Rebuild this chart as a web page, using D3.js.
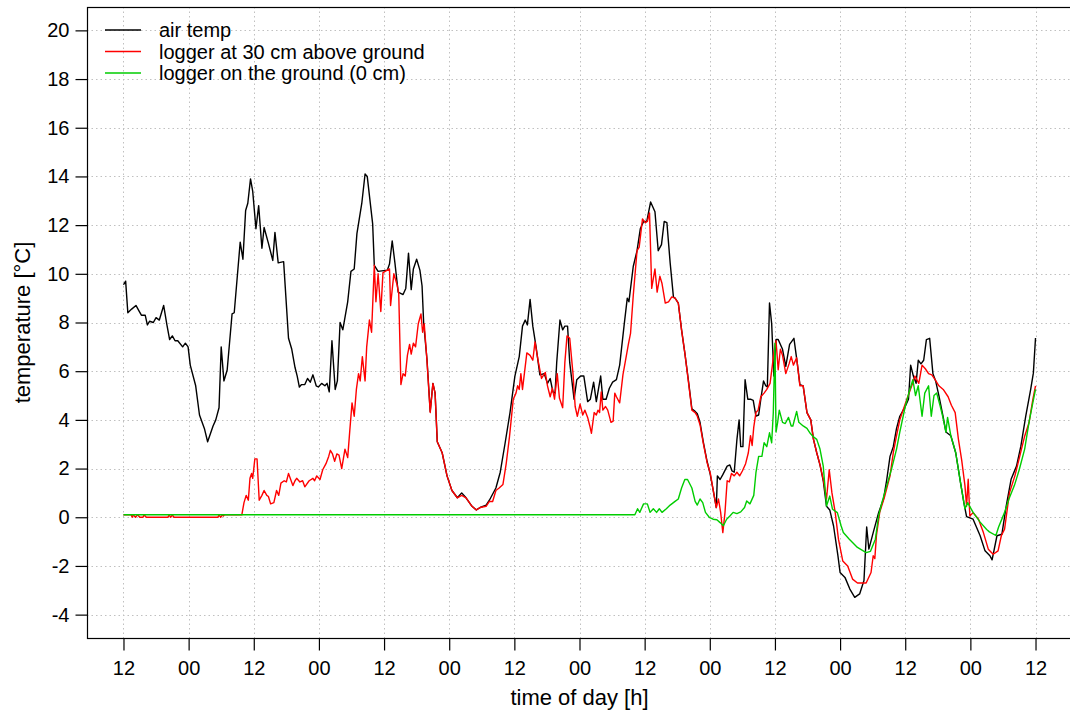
<!DOCTYPE html>
<html>
<head>
<meta charset="utf-8">
<script src="https://cdn.jsdelivr.net/npm/d3@7"></script>
<style>
  body { margin: 0; background: #fff; }
  svg { display: block; font-family: "Liberation Sans", Arial, sans-serif; }
  .grid line { stroke: #c0c0c0; stroke-width: 1; stroke-dasharray: 1.5,3; }
  .series { fill: none; stroke-width: 1.4; stroke-linejoin: round; }
</style>
</head>
<body>
<div id="chart"></div>
<script>
// hours since the first noon, temperature in degrees C
const airTemp = [
  [0,9.55],[0.4,9.7],[0.8,8.4],[1.5,8.55],[2.3,8.7],[2.8,8.5],[3.3,8.3],[4,8.3],[4.4,7.9],[4.8,8.05],
  [5.5,8.0],[6,8.2],[6.6,8.1],[7.4,8.7],[8,7.9],[8.5,7.3],[9,7.45],[9.5,7.25],[10,7.25],[10.9,7.0],
  [11.4,7.15],[11.9,7.0],[12.3,6.25],[13.3,5.4],[14,4.2],[14.9,3.65],[15.5,3.1],[16.5,3.75],[17,4.0],[17.6,4.5],
  [18,7.0],[18.5,5.6],[19.1,6.05],[20,8.35],[20.4,8.4],[21.5,11.3],[22,10.6],[22.5,12.6],[22.9,12.9],[23.4,13.9],
  [23.8,13.4],[24.4,11.85],[24.9,12.8],[25.5,11.05],[25.9,11.9],[26.7,11.25],[27.5,10.55],[27.9,11.7],[28.5,10.45],[29.5,10.5],
  [30.4,7.35],[31,6.9],[31.6,6.15],[32,5.8],[32.4,5.35],[32.8,5.45],[33.4,5.45],[33.9,5.7],[34.4,5.55],[34.9,5.85],
  [35.5,5.4],[35.9,5.35],[36.5,5.5],[37.1,5.4],[37.5,5.5],[37.9,5.15],[38.4,7.25],[39,5.25],[39.4,5.6],[39.9,8.0],
  [40.4,7.7],[41.3,8.85],[41.9,10.1],[42.5,10.2],[43,11.65],[43.9,12.9],[44.5,14.1],[44.9,14.0],[45.9,12.05],[46.2,10.35],
  [46.9,10.1],[48.6,10.15],[49,10.4],[49.5,11.35],[50,10.45],[50.6,9.25],[51.5,9.15],[52,9.4],[52.5,10.85],[53,9.35],
  [53.4,10.2],[54,10.6],[54.6,10.15],[55,9.5],[55.3,7.95],[55.9,6.5],[56.5,4.35],[57,5.5],[57.4,5.1],[57.8,3.1],
  [58.7,2.65],[59.6,1.7],[60.5,1.1],[61.5,0.8],[62.3,1.0],[63.1,0.8],[64.2,0.45],[65,0.3],[65.7,0.4],[66.8,0.5],
  [67.4,0.7],[68.6,1.2],[69.4,1.85],[70.3,3.05],[71.2,4.3],[72.1,5.8],[72.9,6.6],[73.5,7.85],[74,8.1],[74.4,7.9],
  [74.9,8.95],[75.4,7.85],[76,7.0],[76.7,5.85],[77.5,5.9],[78.1,5.5],[78.6,5.7],[79.1,5.15],[79.5,5.1],[79.8,6.35],
  [80.4,8.1],[80.9,7.7],[81.3,7.85],[81.8,7.85],[82.2,6.35],[83,4.85],[83.5,5.65],[84.2,5.8],[84.8,5.8],[85.5,4.75],
  [86,4.85],[86.6,5.55],[87.1,4.75],[87.9,5.8],[88.3,4.85],[88.9,4.85],[89.5,5.3],[90.1,5.55],[90.8,5.65],[91.4,6.25],
  [92.2,7.85],[92.8,9.0],[93.1,8.85],[93.9,10.3],[94.6,10.95],[95.2,11.85],[95.8,12.15],[96.4,12.15],[96.7,12.5],[97.1,12.95],
  [97.9,12.55],[98.5,10.95],[99.1,11.2],[99.6,12.15],[100.1,12.1],[100.7,10.45],[101.3,9.05],[101.6,9.0],[102.2,8.8],[102.8,7.7],
  [103.4,6.75],[104.1,5.55],[104.7,4.45],[105.3,4.35],[105.7,4.25],[106.2,3.9],[106.8,3.1],[107.5,2.3],[108,1.85],[108.6,1.15],
  [109.2,0.4],[109.4,1.7],[109.9,1.55],[110.4,1.75],[111.2,2.1],[111.7,2.15],[112.1,1.9],[112.5,1.85],[113,3.2],[113.4,4.0],
  [113.7,2.9],[114.1,2.9],[114.5,5.65],[115,4.85],[115.5,4.85],[116,4.8],[116.5,4.15],[117,4.2],[117.4,4.85],[117.9,5.6],
  [118.3,5.4],[118.6,5.35],[119,8.8],[119.4,7.95],[119.8,5.8],[120.2,7.3],[120.6,7.3],[121.4,6.9],[122,6.2],[122.7,7.1],
  [123.5,7.35],[124.1,6.35],[124.6,5.45],[125.2,5.4],[125.9,4.3],[126.6,4.0],[127.1,3.2],[127.7,2.65],[128.3,2.15],[128.9,1.5],
  [129.5,0.45],[130.1,0.3],[130.8,-0.36],[131.6,-1.58],[132,-2.27],[132.9,-2.47],[133.8,-2.95],[134.7,-3.29],[135.6,-3.15],[136.4,-2.6],
  [136.9,-0.4],[137.3,-1.31],[138.1,-0.63],[139.1,0.19],[140,0.75],[140.6,1.55],[141.2,2.5],[141.8,2.9],[142.4,3.65],[143,4.15],
  [144,4.55],[144.6,4.85],[145,6.25],[145.5,5.8],[146,5.5],[146.4,6.45],[146.9,6.3],[147.4,6.45],[147.9,7.3],[148.5,7.35],
  [149.1,5.9],[149.6,5.6],[150.2,5.0],[151,4.1],[151.5,3.5],[152.4,3.35],[153.3,2.65],[154.2,1.4],[154.8,0.6],[155.3,0.03],
  [156.5,-0.08],[157.8,-0.76],[158.7,-1.38],[159.6,-1.58],[160,-1.75],[160.9,-0.76],[161.8,-0.7],[162.6,0.46],[163.5,1.56],[164.5,2.1],
  [165.3,2.92],[166.2,4.15],[167.1,5.24],[167.6,5.92],[168,7.36]
];

const logger30 = [
  [0,0.1],[1.4,0.1],[1.6,0.0],[1.8,0.1],[2.2,0.0],[2.6,0.1],[3,0.0],[3.6,0.0],[3.8,0.1],[4.2,0.0],
  [8.2,0.0],[8.4,0.1],[8.7,0.0],[9,0.1],[9.3,0.0],[17.4,0.0],[17.6,0.1],[17.9,0.0],[18.2,0.1],[18.4,0.05],
  [18.6,0.1],[21.8,0.1],[22.2,0.6],[22.6,0.9],[23,0.7],[23.3,1.6],[23.6,1.8],[23.8,1.6],[24.2,2.4],[24.6,2.4],
  [25,0.7],[25.5,0.9],[25.9,1.1],[26.4,0.9],[26.7,0.85],[27.1,0.55],[27.7,0.6],[28.2,1.1],[28.6,0.9],[29,1.4],
  [29.6,1.5],[30,1.45],[30.4,1.8],[31.2,1.3],[31.6,1.5],[31.9,1.6],[32.5,1.45],[33,1.5],[33.4,1.25],[34.2,1.5],
  [34.9,1.6],[35.2,1.5],[35.6,1.7],[36.2,1.55],[36.7,1.95],[37.3,2.2],[37.8,2.5],[38.1,2.75],[38.5,2.6],[38.9,2.3],
  [39.3,2.6],[39.7,2.55],[40.2,2.0],[40.8,2.8],[41.3,2.45],[41.7,3.6],[42.1,4.7],[42.5,4.15],[42.9,5.25],[43.3,5.9],
  [43.6,5.6],[44,6.6],[44.5,5.6],[44.8,7.0],[45.3,8.1],[45.7,7.6],[46.2,10.35],[46.5,8.85],[46.9,10.0],[47.4,8.45],
  [47.8,10.05],[49,10.2],[49.2,8.7],[49.8,10.0],[50.4,9.55],[50.7,9.2],[51.1,5.45],[51.5,5.9],[51.9,5.8],[52.3,6.65],
  [52.7,7.1],[53,6.7],[53.4,7.15],[53.8,7.0],[54.3,7.95],[54.8,8.35],[55.1,7.6],[55.4,7.95],[55.9,6.45],[56.5,4.3],
  [57,5.5],[57.4,5.1],[57.8,3.1],[58.7,2.65],[59.6,1.7],[60.5,1.1],[61.5,0.8],[62.3,0.9],[63.1,0.8],[64.2,0.45],
  [65,0.3],[65.7,0.4],[66.8,0.45],[67.4,0.65],[68,0.65],[68.6,1.1],[69.2,1.2],[69.9,1.35],[70.5,2.2],[71.1,3.3],
  [71.8,4.85],[72.3,5.1],[72.6,5.4],[72.9,5.25],[73.2,5.9],[73.5,5.25],[74.3,6.75],[74.9,6.65],[75.4,6.45],[75.8,7.2],
  [76.4,6.4],[77,5.7],[77.7,5.95],[78.1,5.4],[78.6,4.95],[79,5.3],[79.4,4.85],[79.9,5.9],[80.3,4.9],[80.9,4.5],
  [81.3,6.35],[81.7,7.45],[82.2,7.35],[82.8,5.9],[83.2,4.55],[83.6,4.15],[84.1,4.65],[84.6,4.2],[85,4.4],[85.5,4.1],
  [85.9,3.75],[86.2,3.45],[86.7,4.3],[87.1,4.2],[87.4,4.4],[87.7,4.3],[88,5.15],[88.3,4.4],[88.8,4.55],[89.2,4.4],
  [89.8,3.9],[90.2,3.95],[90.5,5.1],[90.8,4.95],[91.4,4.7],[92,5.85],[92.6,6.6],[93,7.1],[93.4,7.55],[93.9,9.1],
  [94.6,10.95],[95,11.1],[95.6,12.25],[96.1,12.1],[96.5,12.15],[96.9,12.5],[97.3,9.4],[97.9,10.2],[98.3,9.25],[98.8,9.9],
  [99.2,9.6],[99.8,8.8],[100.4,8.85],[101,9.05],[101.6,9.0],[102.2,8.8],[102.8,7.7],[103.4,6.75],[104.1,5.5],[104.7,4.4],
  [105.3,4.3],[105.7,4.15],[106.2,3.8],[106.8,3.05],[107.5,2.25],[108.1,1.8],[108.6,1.15],[109.2,0.4],[109.6,0.75],[110,0.2],
  [110.4,-0.63],[110.8,0.2],[111.2,1.5],[111.6,1.45],[112,1.8],[112.5,1.7],[113,1.85],[113.5,1.7],[114,1.9],[114.6,2.2],
  [115.1,2.65],[115.5,3.35],[115.8,2.95],[116.1,3.7],[116.5,4.3],[116.9,4.4],[117.4,4.95],[118,5.1],[118.5,5.25],[119.1,5.5],
  [119.5,6.2],[119.8,6.75],[120.2,7.25],[120.6,6.06],[121,6.9],[121.4,6.65],[122,5.9],[122.6,6.3],[123,6.6],[123.4,6.25],
  [124,6.55],[124.6,5.4],[125.2,5.4],[125.9,4.3],[126.6,4.0],[127.1,3.2],[127.7,2.65],[128.3,2.15],[128.9,1.55],[129.5,0.75],
  [130,1.95],[130.5,1.0],[131.1,0.2],[131.7,-0.9],[132.5,-1.8],[133.4,-2.0],[134.3,-2.54],[135.2,-2.7],[136.8,-2.7],[137.7,-2.27],
  [138.1,-1.58],[138.4,-1.7],[138.7,-0.75],[139.3,0.2],[140.2,0.85],[141.2,1.7],[141.8,2.65],[142.4,3.35],[143,4.0],[143.6,4.4],
  [144.3,4.85],[145.2,5.4],[145.8,5.8],[146.5,5.5],[147.1,6.25],[147.7,6.1],[148.3,5.9],[148.9,5.85],[149.5,5.65],[150.2,5.4],
  [151,5.25],[151.9,4.95],[152.5,4.6],[153.2,4.3],[153.8,3.2],[154.4,2.35],[155,1.3],[155.3,0.45],[155.6,1.56],[155.9,0.05],
  [156.5,0.19],[157.5,-0.08],[158.4,-0.63],[159.3,-1.31],[160.2,-1.52],[161.1,-1.38],[161.7,-0.76],[162.3,-0.49],[163.2,1.0],[164.2,1.7],
  [165.1,2.51],[166,3.33],[166.8,3.88],[167.5,4.83],[168,5.4]
];

const logger0 = [
  [0,0.1],[24,0.1],[48,0.1],[72,0.1],[94.2,0.1],[94.7,0.35],[95.1,0.2],[95.8,0.55],[96.5,0.55],[97,0.2],
  [97.6,0.35],[98.2,0.2],[98.7,0.35],[99.2,0.2],[100,0.35],[100.7,0.5],[101.6,0.65],[102.2,0.75],[102.8,1.2],[103.4,1.55],
  [103.9,1.55],[104.7,1.2],[105.3,0.65],[105.7,0.5],[106.2,0.75],[106.7,0.6],[107.2,0.2],[107.9,0.0],[108.6,-0.08],[109.3,-0.1],
  [109.9,-0.22],[110.5,-0.35],[111.1,-0.08],[111.7,0.05],[112.3,0.2],[113,0.15],[113.7,0.22],[114.4,0.4],[114.8,0.67],[115.4,0.55],
  [116.1,0.9],[116.5,1.83],[117,2.5],[117.6,2.5],[118,3.06],[118.5,2.9],[119,3.47],[119.4,3.06],[119.7,4.3],[120,7.15],
  [120.2,3.5],[120.5,3.9],[120.8,4.4],[121.4,3.9],[121.9,3.85],[122.5,4.1],[123,3.75],[123.3,3.75],[124,4.35],[124.4,3.9],
  [125.2,3.75],[125.9,3.65],[126.5,3.45],[127.1,3.3],[127.7,3.2],[128.3,2.8],[128.9,2.1],[129.5,0.46],[130.1,0.87],[130.6,0.33],
  [131.5,0.19],[132.2,-0.36],[132.6,-0.63],[133.7,-0.9],[135.2,-1.24],[136.8,-1.45],[137.6,-1.4],[138.5,-0.9],[139.1,0.06],[139.7,0.6],
  [140.6,1.3],[141.5,2.0],[142.4,2.8],[143,3.5],[144,4.55],[144.6,5.05],[145.4,5.65],[145.9,5.0],[146.4,5.4],[147.1,4.15],
  [147.6,5.1],[148.3,5.4],[148.8,4.15],[149.3,5.0],[149.8,5.1],[150.4,4.6],[150.9,4.15],[151.5,3.5],[151.8,4.1],[152.4,3.35],
  [153.3,2.65],[154.2,1.4],[155,0.35],[155.5,0.6],[156.5,0.2],[157.8,-0.2],[159,-0.5],[159.5,-0.6],[160.7,-0.75],[161.2,-0.4],
  [162.3,0.2],[163.1,0.75],[164.1,1.3],[165,1.95],[166,2.8],[166.8,3.9],[167.5,4.7],[168,5.25]
];

const seriesNames = ["air temp", "logger at 30 cm above ground", "logger on the ground (0 cm)"];
const seriesColors = ["#000000", "#ff0000", "#00cd00"];
const yTicks = [-4, -2, 0, 2, 4, 6, 8, 10, 12, 14, 16, 18, 20];
const xTicks = [0, 12, 24, 36, 48, 60, 72, 84, 96, 108, 120, 132, 144, 156, 168];
const xTickLabels = ["12", "00", "12", "00", "12", "00", "12", "00", "12", "00", "12", "00", "12", "00", "12"];

const width = 1070;
const height = 715;
const margin = { top: 7, right: -2, bottom: 77, left: 87 };

const svg = d3.select('#chart')
  .append('svg')
  .attr('width', width)
  .attr('height', height);

// R style: 4% padding on each side of the data range
const x = d3.scaleLinear()
  .domain([-6.72, 174.72])
  .range([margin.left, width - margin.right]);

const y = d3.scaleLinear()
  .domain([-4.96, 20.96])
  .range([height - margin.bottom, margin.top]);

const plotLeft = margin.left;
const plotRight = width - margin.right;
const plotTop = margin.top;
const plotBottom = height - margin.bottom;

// dotted grid
const grid = svg.append('g').attr('class', 'grid');
grid.selectAll('.hgrid')
  .data(yTicks)
  .enter()
  .append('line')
  .attr('x1', plotLeft).attr('x2', plotRight)
  .attr('y1', d => Math.round(y(d)) + 0.5).attr('y2', d => Math.round(y(d)) + 0.5);
grid.selectAll('.vgrid')
  .data(xTicks)
  .enter()
  .append('line')
  .attr('y1', plotTop).attr('y2', plotBottom)
  .attr('x1', d => Math.round(x(d)) + 0.5).attr('x2', d => Math.round(x(d)) + 0.5);

// series
const line = d3.line()
  .x(d => x(d[0]))
  .y(d => y(d[1]));

const allSeries = [airTemp, logger30, logger0];
svg.append('g')
  .selectAll('path')
  .data(allSeries)
  .enter()
  .append('path')
  .attr('class', 'series')
  .attr('stroke', (d, i) => seriesColors[i])
  .attr('d', line);

// box
svg.append('rect')
  .attr('x', plotLeft + 0.5)
  .attr('y', plotTop + 0.5)
  .attr('width', plotRight - plotLeft)
  .attr('height', plotBottom - plotTop)
  .attr('fill', 'none')
  .attr('stroke', '#000')
  .attr('stroke-width', 1.2);

// axes
const yAxis = d3.axisLeft(y)
  .tickValues(yTicks)
  .tickSize(12)
  .tickPadding(6)
  .tickFormat(d => d);

const xAxis = d3.axisBottom(x)
  .tickValues(xTicks)
  .tickSize(12)
  .tickPadding(10)
  .tickFormat((d, i) => xTickLabels[i]);

const gy = svg.append('g')
  .attr('transform', `translate(${plotLeft + 0.5},0)`)
  .call(yAxis);
const gx = svg.append('g')
  .attr('transform', `translate(0,${plotBottom + 0.5})`)
  .call(xAxis);

[gx, gy].forEach(g => {
  g.select('.domain').remove();
  g.selectAll('.tick line').attr('stroke', '#000').attr('stroke-width', 1.2);
  g.selectAll('.tick text')
    .attr('fill', '#000')
    .style('font-size', '20px')
    .style('font-family', '"Liberation Sans", Arial, sans-serif');
});

// axis titles
svg.append('text')
  .attr('x', (x(0) + x(168)) / 2)
  .attr('y', 705)
  .attr('text-anchor', 'middle')
  .style('font-size', '22px')
  .text('time of day [h]');

svg.append('text')
  .attr('transform', `translate(30,${(plotTop + plotBottom) / 2}) rotate(-90)`)
  .attr('text-anchor', 'middle')
  .style('font-size', '22px')
  .text('temperature [°C]');

// legend
const legend = svg.append('g').attr('class', 'legend');
const legendItems = legend.selectAll('g')
  .data(seriesNames)
  .enter()
  .append('g')
  .attr('transform', (d, i) => `translate(105,${30 + i * 21.5})`);

legendItems.append('line')
  .attr('x1', 0).attr('x2', 36)
  .attr('y1', 0).attr('y2', 0)
  .attr('stroke', (d, i) => seriesColors[i])
  .attr('stroke-width', 1.4);

legendItems.append('text')
  .attr('x', 54)
  .attr('y', 7)
  .style('font-size', '20px')
  .text(d => d);
</script>
</body>
</html>
